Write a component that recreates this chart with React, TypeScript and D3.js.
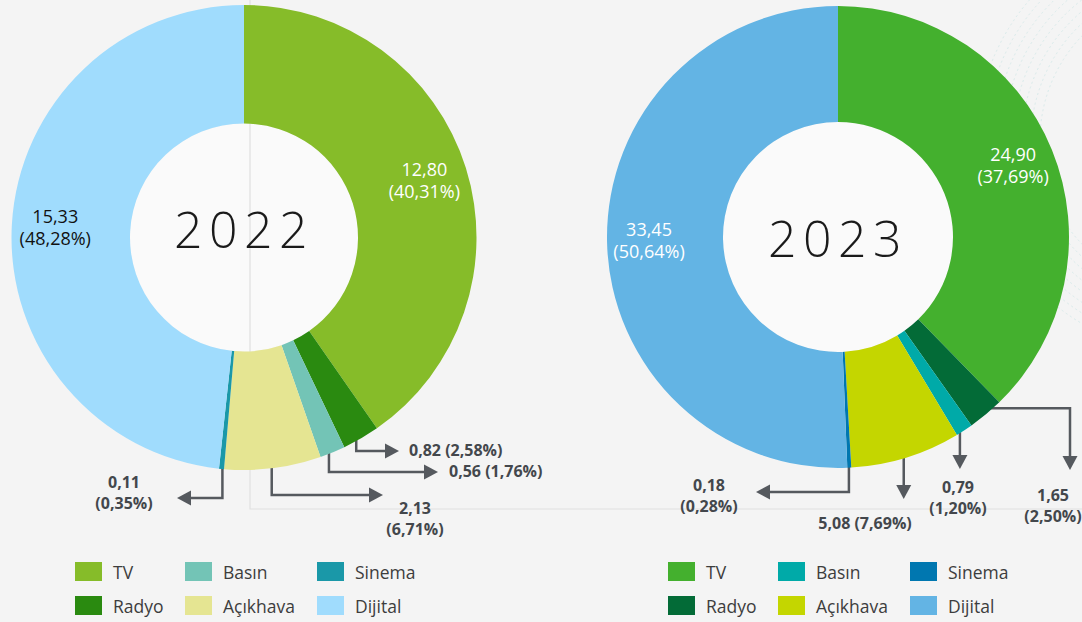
import React from 'react';
import * as d3 from 'd3';

// categories + values
const categories = ['TV', 'Radyo', 'Basın', 'Açıkhava', 'Sinema', 'Dijital'];
const values2022 = [12.8, 0.82, 0.56, 2.13, 0.11, 15.33];
const shares2022 = [40.31, 2.58, 1.76, 6.71, 0.35, 48.28];
const values2023 = [24.9, 1.65, 0.79, 5.08, 0.18, 33.45];
const shares2023 = [37.69, 2.5, 1.2, 7.69, 0.28, 50.64];

const colors2022 = ['#86bc29', '#2a8a10', '#73c4b6', '#e5e592', '#1a98a8', '#a0dcfd'];
const colors2023 = ['#44b02e', '#036b37', '#00aaa8', '#c4d600', '#0077b0', '#63b4e4'];

const W = 1082;
const H = 622;
const FONT = '"Open Sans", "Noto Sans", sans-serif';
const LINE = '#55595e';

const fmt = (v: number) => d3.format('.2f')(v).replace('.', ',');

type Callout = {
  i: number;
  first: 'v' | 'h';
  a: number;
  b?: number;
  lx: number;
  ly: number;
  anchor: 'start' | 'middle';
  oneLine?: boolean;
};

type Inner = { i: number; color: string };

type ChartCfg = {
  year: string;
  cx: number;
  cy: number;
  r0: number;
  r1: number;
  yearDy: number;
  values: number[];
  shares: number[];
  colors: string[];
  inner: Inner[];
  callouts: Callout[];
  legendX: number[];
};

const charts: ChartCfg[] = [
  {
    year: '2022',
    cx: 244,
    cy: 237.5,
    r0: 114,
    r1: 232.5,
    yearDy: 10.5,
    values: values2022,
    shares: shares2022,
    colors: colors2022,
    inner: [
      { i: 0, color: '#ffffff' },
      { i: 5, color: '#111111' },
    ],
    callouts: [
      { i: 1, first: 'v', a: 451, b: 399, lx: 409, ly: 450, anchor: 'start', oneLine: true },
      { i: 2, first: 'v', a: 472, b: 438, lx: 449, ly: 471, anchor: 'start', oneLine: true },
      { i: 3, first: 'v', a: 495, b: 383, lx: 415, ly: 508, anchor: 'middle' },
      { i: 4, first: 'v', a: 498, b: 177, lx: 124, ly: 482, anchor: 'middle' },
    ],
    legendX: [75, 185, 317],
  },
  {
    year: '2023',
    cx: 838,
    cy: 237,
    r0: 115,
    r1: 231,
    yearDy: 20,
    values: values2023,
    shares: shares2023,
    colors: colors2023,
    inner: [
      { i: 0, color: '#ffffff' },
      { i: 5, color: '#ffffff' },
    ],
    callouts: [
      { i: 1, first: 'h', a: 1070, b: 470, lx: 1053, ly: 495, anchor: 'middle' },
      { i: 2, first: 'v', a: 469, lx: 958, ly: 487, anchor: 'middle' },
      { i: 3, first: 'v', a: 499, lx: 865, ly: 523, anchor: 'middle', oneLine: true },
      { i: 4, first: 'v', a: 492, b: 756, lx: 709, ly: 485, anchor: 'middle' },
    ],
    legendX: [668, 778, 910],
  },
];

function Donut({ cfg }: { cfg: ChartCfg }) {
  const pie = d3
    .pie<number>()
    .sort(null)
    .value((d) => d)
    .startAngle(0)
    .endAngle(2 * Math.PI);
  const arcs = pie(cfg.values);
  const arc = d3.arc<d3.PieArcDatum<number>>().innerRadius(cfg.r0).outerRadius(cfg.r1);
  const at = (a: number, r: number): [number, number] => [
    cfg.cx + r * Math.sin(a),
    cfg.cy - r * Math.cos(a),
  ];
  const mid = (d: d3.PieArcDatum<number>) => (d.startAngle + d.endAngle) / 2;

  // leader lines with arrowheads, drawn under the slices
  const leaders = cfg.callouts.map((c) => {
    const d = arcs[c.i];
    const [sx, sy] = at(mid(d), 223);
    const pts: [number, number][] = [[sx, sy]];
    if (c.first === 'v') {
      pts.push([sx, c.a]);
      if (c.b !== undefined) pts.push([c.b, c.a]);
    } else {
      pts.push([c.a, sy]);
      if (c.b !== undefined) pts.push([c.a, c.b]);
    }
    const tip = pts[pts.length - 1];
    const prev = pts[pts.length - 2];
    const len = Math.hypot(tip[0] - prev[0], tip[1] - prev[1]);
    const ux = (tip[0] - prev[0]) / len;
    const uy = (tip[1] - prev[1]) / len;
    const L = 14;
    const hw = 7.5;
    const base: [number, number] = [tip[0] - ux * L, tip[1] - uy * L];
    const linePts = pts.slice(0, -1).concat([base]);
    const head = [
      tip,
      [base[0] - uy * hw, base[1] + ux * hw],
      [base[0] + uy * hw, base[1] - ux * hw],
    ];
    return { c, line: d3.line()(linePts) as string, head: head.map((p) => p.join(',')).join(' ') };
  });

  return (
    <g>
      {leaders.map((l) => (
        <g key={'l' + l.c.i}>
          <path d={l.line} fill="none" stroke={LINE} strokeWidth={2.5} />
          <polygon points={l.head} fill={LINE} />
        </g>
      ))}
      <g transform={`translate(${cfg.cx},${cfg.cy})`}>
        {arcs.map((d, i) => (
          <path key={i} d={arc(d) as string} fill={cfg.colors[i]} />
        ))}
      </g>
      <text
        x={cfg.cx}
        y={cfg.cy + cfg.yearDy}
        textAnchor="middle"
        fontFamily={FONT}
        fontWeight={300}
        fontSize={50}
        letterSpacing={6.5}
        fill="#1a1a1a"
      >
        {cfg.year}
      </text>
      {cfg.inner.map((n) => {
        const [x, y] = at(mid(arcs[n.i]), 189);
        return (
          <text key={'n' + n.i} textAnchor="middle" fontFamily={FONT} fontSize={18} fill={n.color}>
            <tspan x={x} y={y - 11} dy="0.35em">
              {fmt(cfg.values[n.i])}
            </tspan>
            <tspan x={x} y={y + 11} dy="0.35em">
              ({fmt(cfg.shares[n.i])}%)
            </tspan>
          </text>
        );
      })}
      {cfg.callouts.map((c) => (
        <text
          key={'c' + c.i}
          textAnchor={c.anchor}
          fontFamily={FONT}
          fontWeight={700}
          fontSize={16}
          fill="#43474c"
        >
          {c.oneLine ? (
            <tspan x={c.lx} y={c.ly} dy="0.35em">
              {fmt(cfg.values[c.i])} ({fmt(cfg.shares[c.i])}%)
            </tspan>
          ) : (
            <>
              <tspan x={c.lx} y={c.ly} dy="0.35em">
                {fmt(cfg.values[c.i])}
              </tspan>
              <tspan x={c.lx} y={c.ly + 21.5} dy="0.35em">
                ({fmt(cfg.shares[c.i])}%)
              </tspan>
            </>
          )}
        </text>
      ))}
      {categories.map((name, i) => {
        const x = cfg.legendX[Math.floor(i / 2)];
        const y = i % 2 === 0 ? 562 : 596;
        return (
          <g key={'g' + i}>
            <rect x={x} y={y} width={27} height={19} fill={cfg.colors[i]} />
            <text x={x + 38} y={y + 17} fontFamily={FONT} fontSize={17.5} fill="#3d3d3d">
              {name}
            </text>
          </g>
        );
      })}
    </g>
  );
}

export default function App() {
  // faint decorative swirl in the top right corner
  const swirl = d3.range(8).map((k) => 150 + k * 9);
  return (
    <svg
      width={W}
      height={H}
      style={{ position: 'absolute', left: 0, top: 0, display: 'block' }}
    >
      <rect width={W} height={H} fill="#f4f4f4" />
      <g fill="none" stroke="#bfe3e3" strokeWidth={1} strokeDasharray="2 3" opacity={0.5}>
        {swirl.map((r) => (
          <circle key={r} cx={1190} cy={140} r={r} />
        ))}
      </g>
      {charts.map((c) => (
        <circle key={'h' + c.year} cx={c.cx} cy={c.cy} r={c.r0} fill="#fafafa" />
      ))}
      {/* faint panel border */}
      <path d="M250,0 V509 H1082" fill="none" stroke="#e0e0e0" strokeWidth={1.2} />
      {charts.map((c) => (
        <Donut key={c.year} cfg={c} />
      ))}
    </svg>
  );
}
